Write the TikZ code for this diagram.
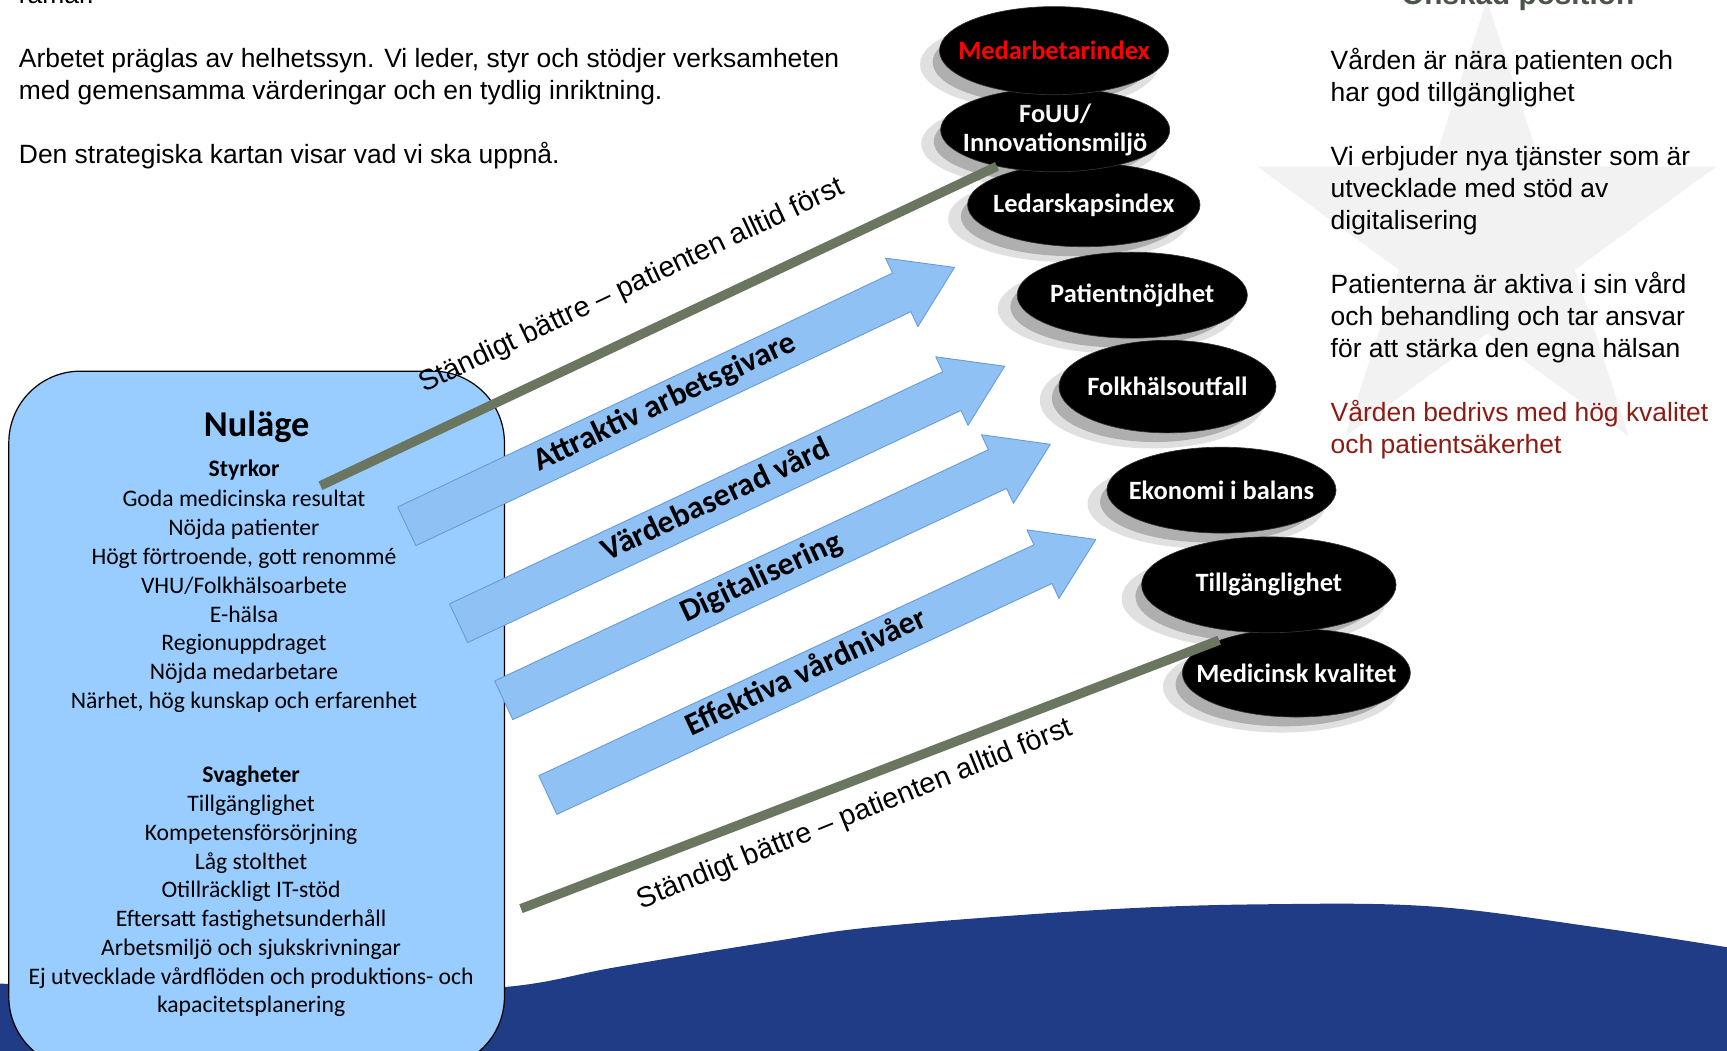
\documentclass[tikz,border=0pt]{standalone}
\usepackage{fontspec}
\setmainfont{Liberation Sans}
\newfontfamily\calibri{Carlito}
\usepackage{tikz}
\usetikzlibrary{shapes.geometric, shapes.arrows, shadows}

\definecolor{nulageblue}{RGB}{153,204,255}
\definecolor{waveblue}{RGB}{33,60,135}
\definecolor{mottogreen}{RGB}{106,118,95}
\definecolor{goalred}{RGB}{140,28,19}
\definecolor{indexred}{RGB}{255,0,0}
\definecolor{titlegray}{RGB}{75,84,74}
\definecolor{starfill}{RGB}{242,242,242}
\definecolor{arrowfill}{RGB}{143,193,244}
\definecolor{arrowedge}{RGB}{104,155,212}

\tikzset{
  bodytext/.style={font=\fontsize{24}{29}\selectfont, inner sep=0pt, anchor=base west},
  mottotext/.style={font=\fontsize{26}{30}\selectfont, inner sep=0pt, anchor=base},
  motto/.style={draw=mottogreen, line width=8.5pt},
  nutext/.style={font=\calibri\fontsize{21.5}{26}\selectfont, inner sep=0pt, anchor=base},
  nuhead/.style={nutext, font=\calibri\bfseries\fontsize{21.5}{26}\selectfont},
  stratarrow/.style={single arrow, single arrow head extend=15pt, single arrow tip angle=66,
    minimum height=#1, anchor=tail, inner xsep=4pt, inner ysep=6.5pt, text height=19pt, text depth=6pt,
    font=\calibri\bfseries\fontsize{29}{30}\selectfont, fill=arrowfill, draw=arrowedge, line width=0.8pt},
  stone/.style={ellipse, fill=black, draw=black!80, line width=0.6pt, inner sep=0pt,
    drop shadow={shadow xshift=-13pt, shadow yshift=-12pt, opacity=0.12, fill=black, shadow scale=1.04},
    drop shadow={shadow xshift=-12pt, shadow yshift=-11pt, opacity=0.22, fill=black, shadow scale=0.95}},
  stonetext/.style={text=white, font=\calibri\bfseries\fontsize{24}{27}\selectfont, align=center, inner sep=0pt}
}

\begin{document}
\begin{tikzpicture}[x=1pt, y=-1pt, line join=round]

  \useasboundingbox (0,0) rectangle (1568,954);
  \clip (0,0) rectangle (1568,954);

  % Star behind the wanted position
  \begin{scope}[shift={(1350,219)}, yscale=-1]
    \fill[starfill] (90:219) -- (126:84) -- (162:219) -- (198:84) -- (234:219)
      -- (270:84) -- (306:219) -- (342:84) -- (18:219) -- (54:84) -- cycle;
  \end{scope}

  % Intro text
  \node[bodytext] (intro0) at (17,3.5) {ramar.};
  \node[bodytext] (intro1) at (17,61.5) {Arbetet präglas av helhetssyn. Vi leder, styr och stödjer verksamheten};
  \node[bodytext] (intro2) at (17,90.5) {med gemensamma värderingar och en tydlig inriktning.};
  \node[bodytext] (intro3) at (17,148.5) {Den strategiska kartan visar vad vi ska uppnå.};

  % Wanted position
  \node[font=\bfseries\fontsize{27}{30}\selectfont, text=titlegray, inner sep=0pt, anchor=base] (onskad) at (1378,4) {Önskad position};
  \foreach \k/\txt in {0/Vården är nära patienten och, 1/har god tillgänglighet,
      3/Vi erbjuder nya tjänster som är, 4/utvecklade med stöd av, 5/digitalisering,
      7/Patienterna är aktiva i sin vård, 8/och behandling och tar ansvar, 9/för att stärka den egna hälsan}
    \node[bodytext] (goal\k) at (1208,{63.5+29*\k}) {\txt};
  \foreach \k/\txt in {11/Vården bedrivs med hög kvalitet, 12/och patientsäkerhet}
    \node[bodytext, text=goalred] (goal\k) at (1208,{63.5+29*\k}) {\txt};

  % Wave at the bottom
  \fill[waveblue] (0,954) -- plot[smooth, tension=0.6] coordinates {(0,893) (300,903) (460,896) (560,878)
    (700,855) (800,841) (1000,826) (1150,821) (1300,823) (1450,842) (1568,860)} -- (1568,954) -- cycle;

  % Current position
  \node[draw, fill=nulageblue, line width=1.1pt, rounded corners=65pt, minimum width=450pt,
    minimum height=633pt] (nulage) at (233,653.5) {};
  \node[nutext, font=\calibri\bfseries\fontsize{33}{36}\selectfont] (nulagetitle) at (233,396.6) {Nuläge};
  \node[nuhead] (styrkor) at (221.7,433) {Styrkor};
  \foreach \txt [count=\i] in {Goda medicinska resultat, Nöjda patienter, {Högt förtroende, gott renommé},
      VHU/Folkhälsoarbete, E-hälsa, Regionuppdraget, Nöjda medarbetare, {Närhet, hög kunskap och erfarenhet}}
    \node[nutext] (styrka\i) at (221.5,{460+26.2*(\i-1)}) {\txt};
  \node[nuhead] (svagheter) at (228,710) {Svagheter};
  \foreach \txt [count=\i] in {Tillgänglighet, Kompetensförsörjning, Låg stolthet, Otillräckligt IT-stöd,
      Eftersatt fastighetsunderhåll, Arbetsmiljö och sjukskrivningar,
      Ej utvecklade vårdflöden och produktions- och, kapacitetsplanering}
    \node[nutext] (svaghet\i) at (228,{737+26.1*(\i-1)}) {\txt};

  % Strategic arrows
  \node[stratarrow=550pt, rotate=25.3] (attraktiv) at (369,478) {Attraktiv arbetsgivare};
  \node[stratarrow=548pt, rotate=25.2] (vardebaserad) at (416,566) {Värdebaserad vård};
  \node[stratarrow=548pt, rotate=25.1] (digital) at (457,636) {Digitalisering};
  \node[stratarrow=549pt, rotate=25.0] (effektiva) at (497,722) {Effektiva vårdnivåer};

  % Goal stones, bottom one first
  \node[stone, minimum width=207pt, minimum height=80pt, label={[stonetext]center:Medicinsk kvalitet}] (medkval) at (1177,611) {};
  \node[stone, minimum width=231pt, minimum height=87pt, label={[stonetext]center:Tillgänglighet}] (tillgang) at (1152,531) {};
  \node[stone, minimum width=208pt, minimum height=78pt, label={[stonetext]center:Ekonomi i balans}] (ekonomi) at (1109,445) {};
  \node[stone, minimum width=197pt, minimum height=84pt, label={[stonetext]center:Folkhälsoutfall}] (folkhalsa) at (1060,351) {};
  \node[stone, minimum width=209pt, minimum height=78pt, label={[stonetext]center:Patientnöjdhet}] (patient) at (1028,268) {};
  \node[stone, minimum width=211pt, minimum height=76pt, label={[stonetext]center:Ledarskapsindex}] (ledindex) at (984,186) {};
  \node[stone, minimum width=208pt, minimum height=76pt, label={[stonetext]center:{FoUU/\\Innovationsmiljö}}] (fouu) at (958,118) {};
  \node[stone, minimum width=208pt, minimum height=80pt, label={[stonetext, text=indexred]center:Medarbetarindex}] (medindex) at (957,46) {};

  % Always better lines
  \coordinate (motto1 start) at (291,441);
  \coordinate (motto2 start) at (473,825);
  \draw[motto] (motto1 start) -- (fouu.212);
  \draw[motto] (motto2 start) -- (medkval.157);
  \node[mottotext, rotate=25.3] (motto1) at (576.5,266) {Ständigt bättre – patienten alltid först};
  \node[mottotext, rotate=22] (motto2) at (779,746) {Ständigt bättre – patienten alltid först};

\end{tikzpicture}
\end{document}
